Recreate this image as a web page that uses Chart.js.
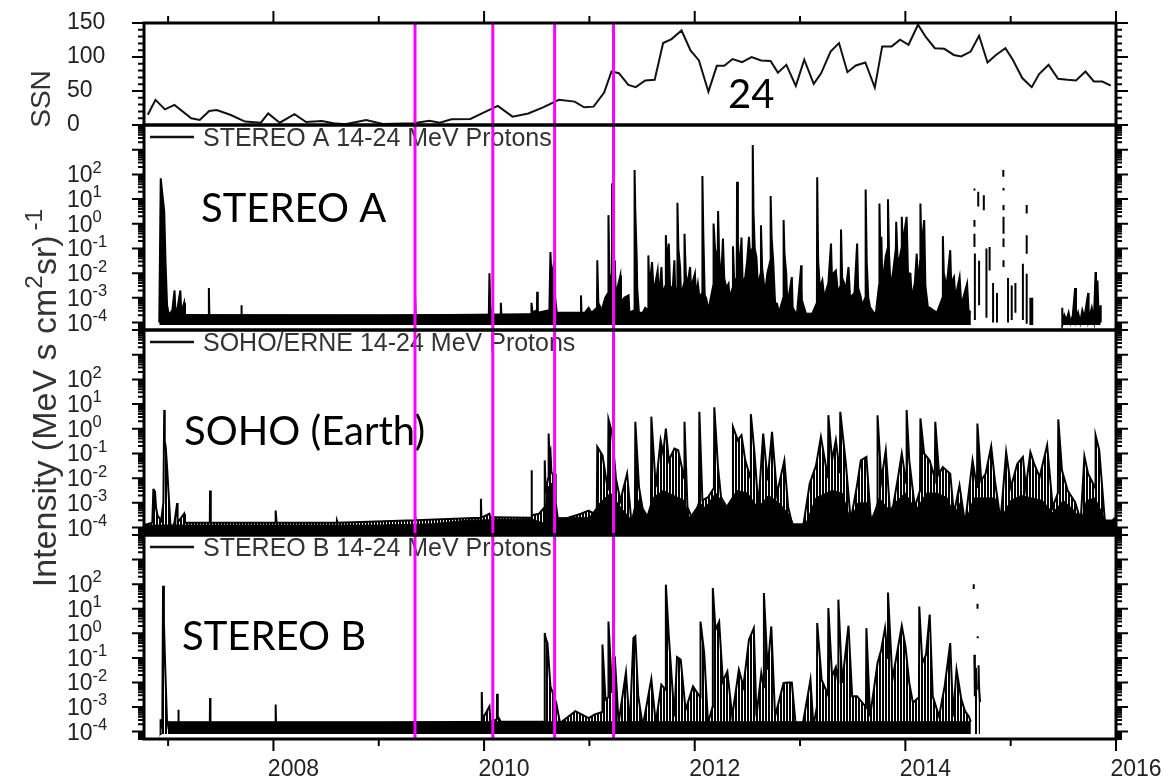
<!DOCTYPE html>
<html>
<head>
<meta charset="utf-8">
<script src="https://cdn.jsdelivr.net/npm/chart.js@4.4.1/dist/chart.umd.min.js"></script>
<style>
  body { margin: 0; background: #fff; }
  #wrap { width: 1166px; height: 780px; position: relative; }
</style>
</head>
<body>
<div id="wrap"><canvas id="c"></canvas></div>
<script>
// x axis (decimal years)
const xMin = 2006.771;
const xMax = 2016;
const yearTicks = [2007, 2008, 2009, 2010, 2011, 2012, 2013, 2014, 2015, 2016];
const yearLabels = [2008, 2010, 2012, 2014, 2016];
const eventTimes = [2009.344, 2010.083, 2010.67, 2011.229];

// sunspot number, monthly
const ssnT = [2006.807, 2006.88, 2006.97, 2007.06, 2007.22, 2007.30, 2007.39, 2007.46, 2007.59, 2007.73,
  2007.88, 2007.95, 2008.06, 2008.20, 2008.31, 2008.46, 2008.57, 2008.68, 2008.88, 2009.04,
  2009.33, 2009.48, 2009.58, 2009.69, 2009.87, 2009.98, 2010.13, 2010.27, 2010.42, 2010.56,
  2010.71, 2010.86, 2010.95, 2011.04, 2011.14, 2011.21, 2011.28, 2011.37, 2011.44, 2011.53,
  2011.62, 2011.70, 2011.78, 2011.875, 2011.96, 2012.04, 2012.13, 2012.21, 2012.28, 2012.36,
  2012.45, 2012.54, 2012.63, 2012.72, 2012.79, 2012.87, 2012.96, 2013.04, 2013.13, 2013.20,
  2013.29, 2013.37, 2013.45, 2013.53, 2013.62, 2013.71, 2013.78, 2013.87, 2013.95, 2014.03,
  2014.12, 2014.19, 2014.28, 2014.37, 2014.46, 2014.53, 2014.62, 2014.70, 2014.78, 2014.86,
  2014.95, 2015.02, 2015.11, 2015.20, 2015.27, 2015.36, 2015.45, 2015.54, 2015.62, 2015.71,
  2015.79, 2015.87, 2015.95];
const ssnV = [15, 37, 23, 29.5, 10, 7.5, 20.7, 22, 15, 5,
  3.4, 17, 3.4, 16, 4.4, 6, 2.5, 1, 7.4, 1.5,
  2.5, 6.4, 3.4, 8.4, 9, 17, 28, 12.3, 17, 26,
  37, 34.4, 26, 27, 47.7, 78.7, 76.2, 59, 55.6, 65.4,
  66.4, 120.5, 126.4, 139, 109.7, 95, 49, 87, 87, 97,
  92.5, 100, 95, 94, 77, 88.5, 57.5, 96, 60.5, 76,
  108, 120.5, 77.7, 87.5, 92, 55, 115.6, 115.6, 125.4, 118,
  147.5, 130.3, 113, 112, 103, 100.8, 108, 131.3, 92, 103,
  113, 96, 69, 55.6, 75, 88.5, 68, 66.4, 65.4, 78.7,
  64, 64, 58];

// proton intensity, [year, log10 intensity]; null = data gap
const staPts = [
  [2006.916,-4.0],[2006.930,1.84],[2006.938,1.5],[2006.963,0.5],[2006.975,-1.5],[2006.99,-3.3],[2007.007,-3.7],
  [2007.04,-3.5],[2007.061,-2.7],[2007.07,-3.6],[2007.09,-3.4],[2007.116,-2.7],[2007.125,-3.6],[2007.152,-3.2],[2007.16,-3.7],
  [2007.385,-3.7],[2007.387,-2.6],[2007.392,-3.7],[2007.693,-3.7],[2007.695,-3.3],[2007.70,-3.7],
  [2009.342,-3.7],[2009.344,-2.75],[2009.35,-3.7],
  [2010.045,-3.7],[2010.051,-2.0],[2010.058,-3.3],[2010.07,-3.7],[2010.155,-3.7],[2010.159,-3.2],[2010.165,-3.7],
  [2010.448,-3.7],[2010.45,-3.2],[2010.46,-3.6],[2010.502,-3.5],[2010.504,-2.75],[2010.51,-3.6],
  [2010.62,-3.5],[2010.63,-1.14],[2010.64,-2.2],[2010.667,-1.5],[2010.675,-3.0],[2010.69,-3.6],
  [2010.918,-3.6],[2010.92,-2.9],[2010.925,-3.6],[2010.958,-3.6],[2010.993,-3.4],[2011.02,-3.6],
  [2011.072,-3.4],[2011.075,-1.48],[2011.085,-3.2],[2011.117,-3.5],[2011.15,-3.0],[2011.178,-2.8],[2011.181,0.35],[2011.19,-2.0],
  [2011.214,-2.5],[2011.216,1.64],[2011.226,0.0],[2011.232,-2.6],[2011.241,-1.48],[2011.25,-2.9],[2011.294,-2.09],[2011.30,-3.2],
  [2011.33,-3.0],[2011.372,-2.9],[2011.38,-3.6],
  [2011.426,-3.5],[2011.429,2.18],[2011.436,0.5],[2011.45,-1.5],[2011.454,-2.6],[2011.47,-3.6],[2011.507,-3.6],[2011.53,-3.4],
  [2011.557,-3.5],[2011.560,-1.28],[2011.57,-2.6],[2011.595,-1.55],[2011.61,-2.8],[2011.648,-1.9],[2011.66,-3.0],[2011.684,-1.75],[2011.695,-2.8],
  [2011.723,-2.5],[2011.726,-0.46],[2011.735,-1.6],[2011.754,-0.8],[2011.765,-2.5],[2011.79,-2.7],[2011.807,-1.48],[2011.815,-2.8],
  [2011.833,-2.6],[2011.836,0.85],[2011.845,-1.0],[2011.861,-1.75],[2011.87,-2.9],[2011.900,-2.4],[2011.903,-0.4],[2011.915,-2.02],
  [2011.931,-2.5],[2011.956,-1.75],[2011.965,-2.6],[2012.002,-2.02],[2012.012,-2.9],[2012.030,-2.43],[2012.045,-3.0],
  [2012.07,-2.8],[2012.073,1.93],[2012.082,-0.5],[2012.095,-2.9],[2012.108,-3.0],[2012.13,-3.5],
  [2012.176,-2.5],[2012.179,0.01],[2012.19,-0.8],[2012.20,-1.5],[2012.219,-1.0],[2012.222,0.52],[2012.232,-1.3],[2012.250,-2.4],
  [2012.268,-0.6],[2012.28,-2.2],[2012.30,-2.6],[2012.321,-2.43],[2012.33,-3.0],[2012.36,-2.6],[2012.363,-0.91],[2012.375,-2.3],
  [2012.399,-2.2],[2012.402,1.7],[2012.41,-0.7],[2012.427,-2.0],[2012.444,-0.56],[2012.455,-2.4],[2012.48,-2.16],
  [2012.498,-1.5],[2012.515,-0.53],[2012.525,-1.2],[2012.548,-1.0],[2012.551,3.19],[2012.558,0.5],[2012.57,-1.0],[2012.586,-1.35],[2012.60,-2.5],
  [2012.627,-2.0],[2012.629,-0.06],[2012.64,-1.8],[2012.662,-2.6],[2012.675,-2.56],[2012.69,-2.0],
  [2012.718,-1.5],[2012.721,1.12],[2012.73,-0.53],[2012.745,-1.5],[2012.763,-3.2],[2012.781,-3.24],
  [2012.80,-3.6],[2012.841,-3.0],[2012.844,0.15],[2012.852,-1.2],[2012.869,-2.02],[2012.88,-3.3],[2012.922,-2.16],[2012.93,-3.4],
  [2012.97,-3.7],[2013.011,-1.68],[2013.015,-2.6],[2013.02,-3.6],[2013.028,-3.24],[2013.06,-3.7],[2013.10,-3.8],
  [2013.16,-3.2],[2013.163,1.88],[2013.172,-1.48],[2013.188,-2.6],[2013.212,-2.29],[2013.23,-3.0],
  [2013.269,-2.4],[2013.294,-0.8],[2013.305,-2.5],[2013.319,-2.0],[2013.34,-1.9],[2013.36,-2.8],
  [2013.386,-2.5],[2013.389,-0.23],[2013.40,-2.2],[2013.418,-2.4],[2013.435,-2.7],[2013.46,-1.75],[2013.475,-3.0],
  [2013.517,-2.8],[2013.542,-0.8],[2013.552,-2.6],[2013.577,-2.97],[2013.59,-3.3],
  [2013.620,-3.0],[2013.623,1.39],[2013.633,-1.5],[2013.648,-3.0],[2013.665,-3.38],[2013.70,-3.6],[2013.719,-3.65],
  [2013.75,-2.5],[2013.754,0.82],[2013.762,-1.0],[2013.772,-0.53],[2013.78,-2.0],[2013.795,-2.0],[2013.814,-1.3],
  [2013.832,-1.0],[2013.835,0.99],[2013.845,-1.21],[2013.86,-2.6],[2013.885,-1.9],[2013.91,-1.0],[2013.913,0.08],[2013.925,-1.35],
  [2013.941,-1.5],[2013.963,-1.0],[2013.966,0.28],[2013.975,-0.8],[2014.012,0.28],[2014.025,-2.0],[2014.048,-2.02],[2014.06,-3.0],
  [2014.090,-2.4],[2014.108,-1.21],[2014.12,-2.5],[2014.140,-1.5],[2014.143,0.82],[2014.152,-1.0],[2014.179,0.15],[2014.19,-2.5],
  [2014.214,-3.38],[2014.232,-3.4],[2014.267,-3.51],[2014.30,-3.6],
  [2014.353,-3.0],[2014.356,-0.5],[2014.365,-2.0],[2014.391,-2.56],[2014.426,-1.07],[2014.435,-2.4],[2014.462,-2.16],[2014.475,-3.0],
  [2014.515,-2.16],[2014.53,-3.2],[2014.55,-3.0],[2014.586,-2.43],[2014.60,-3.5],[2014.621,-3.6],[2014.621,null],
  [2014.656,1.43],[2014.656,1.35],[2014.656,null],[2014.656,0.15],[2014.656,-0.12],[2014.656,null],
  [2014.656,-0.4],[2014.656,-0.94],[2014.656,null],[2014.660,-1.2],[2014.660,-3.9],[2014.660,null],
  [2014.692,1.3],[2014.692,0.7],[2014.692,null],[2014.70,-1.5],[2014.70,-3.3],[2014.70,null],
  [2014.745,1.16],[2014.745,0.55],[2014.745,null],[2014.77,-1.0],[2014.77,-3.8],[2014.77,null],
  [2014.80,-0.94],[2014.80,-1.89],[2014.80,null],[2014.833,-2.4],[2014.833,-4.0],[2014.833,null],
  [2014.87,-2.8],[2014.87,-4.0],[2014.87,null],[2014.93,2.18],[2014.93,1.9],[2014.93,null],
  [2014.932,1.45],[2014.932,1.35],[2014.932,null],[2014.932,0.76],[2014.932,0.55],[2014.932,null],
  [2014.932,0.28],[2014.932,-0.4],[2014.932,null],[2014.932,-0.6],[2014.932,-0.94],[2014.932,null],
  [2014.932,-1.48],[2014.932,-1.75],[2014.932,null],[2014.975,-2.2],[2014.975,-4.0],[2014.975,null],
  [2015.01,-2.5],[2015.01,-3.9],[2015.01,null],[2015.045,-2.4],[2015.045,-3.6],[2015.045,null],
  [2015.116,-1.62],[2015.116,-3.9],[2015.116,null],[2015.152,0.76],[2015.152,0.42],[2015.152,null],
  [2015.152,-0.46],[2015.152,-1.21],[2015.152,null],[2015.152,-2.02],[2015.152,-4.05],[2015.152,null],
  [2015.187,-3.0],[2015.187,-4.1],[2015.187,null],[2015.205,-3.0],[2015.205,-4.1],[2015.205,null],
  [2015.49,-3.4],[2015.49,-4.1],[2015.51,-3.7],[2015.53,-3.9],[2015.55,-3.6],[2015.57,-4.0],[2015.59,-3.7],[2015.612,-2.6],
  [2015.62,-3.9],[2015.64,-3.6],[2015.66,-4.0],[2015.68,-3.5],[2015.70,-3.8],[2015.736,-2.8],[2015.74,-3.9],[2015.77,-3.4],
  [2015.79,-3.9],[2015.806,-1.95],[2015.81,-3.0],[2015.824,-2.3],[2015.835,-3.8],[2015.853,-3.3],[2015.855,-4.0]
];
const staBand = [[2007.0,-3.68],[2009.0,-3.7],[2011.0,-3.62],[2014.62,-3.62]];

const sohoPts = [
  [2006.771,-3.9],[2006.85,-3.8],[2006.86,-2.43],[2006.865,-3.5],[2006.875,-2.5],[2006.885,-3.17],[2006.898,-3.5],[2006.934,-3.72],
  [2006.955,-3.0],[2006.963,0.76],[2006.968,-0.5],[2006.977,-0.73],[2006.99,-1.55],[2007.025,-4.1],[2007.06,-3.8],[2007.086,-3.01],
  [2007.09,-3.8],[2007.152,-3.44],[2007.16,-3.8],[2007.396,-3.8],[2007.398,-2.5],[2007.405,-3.8],[2008.02,-3.8],[2008.021,-3.31],
  [2008.03,-3.8],[2008.601,-3.8],[2008.603,-3.72],[2008.61,-3.8],[2009.344,-3.7],[2009.346,-3.58],[2009.35,-3.7],
  [2009.968,-3.6],[2009.97,-2.83],[2009.975,-3.6],[2010.051,-3.44],[2010.06,-3.6],[2010.105,-3.58],[2010.448,-3.6],[2010.45,-1.68],
  [2010.455,-3.5],[2010.522,-3.44],[2010.57,-3.2],[2010.576,-1.28],[2010.585,-2.6],[2010.608,-2.0],[2010.613,-0.19],[2010.62,-1.0],
  [2010.63,-0.87],[2010.64,-1.8],[2010.674,-1.82],[2010.68,-3.0],[2010.703,-3.72],[2010.80,-3.6],[2010.92,-3.44],
  [2010.993,-3.31],[2011.07,-3.5],[2011.075,-0.73],[2011.124,-1.07],[2011.176,-2.5],[2011.181,0.38],[2011.216,-0.19],[2011.252,-2.02],
  [2011.294,-2.9],[2011.358,-1.82],[2011.400,-3.85],[2011.432,-3.6],[2011.436,0.28],[2011.471,-2.36],[2011.524,-3.72],
  [2011.584,-3.5],[2011.588,0.49],[2011.630,-2.36],[2011.676,-0.46],[2011.701,-1.0],[2011.726,0.01],[2011.754,-1.28],[2011.807,-0.80],
  [2011.843,-0.87],[2011.900,-2.0],[2011.903,0.28],[2011.931,-3.17],[2011.984,-3.72],[2012.04,-3.0],[2012.044,0.69],[2012.073,-2.9],
  [2012.126,-2.77],[2012.182,-2.4],[2012.186,0.87],[2012.221,-1.55],[2012.250,-2.77],[2012.303,-3.17],[2012.36,-2.8],[2012.363,0.08],
  [2012.409,-0.46],[2012.444,-0.26],[2012.480,-1.28],[2012.53,-2.0],[2012.533,0.59],[2012.568,-1.0],[2012.604,-3.17],
  [2012.650,-0.19],[2012.692,-2.09],[2012.734,-0.12],[2012.781,-2.63],[2012.851,-1.28],[2012.887,-3.17],[2012.940,-4.12],
  [2013.028,-3.99],[2013.092,-2.22],[2013.152,-1.48],[2013.198,-0.33],[2013.265,-2.0],[2013.269,0.55],[2013.304,-1.28],[2013.340,-0.46],
  [2013.378,-1.8],[2013.382,0.69],[2013.435,-1.41],[2013.481,-3.72],[2013.541,-2.29],[2013.577,-1.28],[2013.630,-1.14],[2013.672,-3.72],
  [2013.732,-3.2],[2013.736,0.55],[2013.772,-2.09],[2013.814,-0.87],[2013.860,-3.72],[2013.931,-1.95],[2013.966,-1.0],[2014.008,-2.2],
  [2014.012,0.76],[2014.037,-1.28],[2014.090,-3.17],[2014.139,-2.5],[2014.143,0.42],[2014.178,-1.0],[2014.231,-1.28],[2014.280,-2.0],
  [2014.284,0.28],[2014.320,-1.82],[2014.355,-1.55],[2014.426,-1.82],[2014.461,-3.44],[2014.514,-2.29],[2014.567,-3.85],
  [2014.638,-1.28],[2014.680,-2.4],[2014.684,0.21],[2014.720,-2.09],[2014.762,-1.82],[2014.815,-0.71],[2014.850,-2.09],[2014.904,-3.72],
  [2014.957,-0.94],[2015.003,-2.36],[2015.063,-1.41],[2015.116,-1.14],[2015.144,-2.36],[2015.187,-0.94],[2015.222,-1.41],[2015.275,-1.95],
  [2015.346,-0.67],[2015.399,-3.17],[2015.448,-2.6],[2015.452,0.38],[2015.487,-1.68],[2015.541,-2.5],[2015.612,-2.97],[2015.665,-3.72],
  [2015.700,-1.11],[2015.735,-1.82],[2015.803,-2.4],[2015.806,-0.26],[2015.841,-0.87],[2015.894,-3.72],[2015.966,-3.72],[2015.99,-3.6]
];
// level of the dense low-intensity mass under the SOHO spikes
const sohoEnv = [
  [2010.57,-3.8],[2010.60,-2.4],[2010.64,-2.2],[2010.68,-3.6],[2011.0,-3.6],[2011.1,-3.0],[2011.2,-2.6],[2011.3,-3.2],[2011.4,-3.7],
  [2011.45,-2.8],[2011.55,-3.5],[2011.6,-2.8],[2011.7,-2.5],[2011.8,-2.7],[2011.9,-2.9],[2011.95,-3.6],[2012.05,-3.0],[2012.1,-3.2],
  [2012.2,-2.6],[2012.3,-3.2],[2012.4,-2.5],[2012.5,-2.6],[2012.6,-3.2],[2012.7,-2.7],[2012.8,-3.0],[2012.9,-3.5],[2012.95,-4.0],
  [2013.05,-3.9],[2013.15,-2.8],[2013.3,-2.5],[2013.4,-2.6],[2013.48,-3.7],[2013.55,-3.0],[2013.65,-3.0],[2013.68,-3.7],[2013.75,-2.8],
  [2013.85,-3.3],[2013.9,-3.0],[2014.0,-2.6],[2014.1,-3.3],[2014.2,-2.6],[2014.3,-2.6],[2014.4,-2.8],[2014.46,-3.5],[2014.52,-3.0],
  [2014.57,-3.8],[2014.65,-2.8],[2014.75,-2.8],[2014.85,-2.8],[2014.9,-3.7],[2015.0,-2.9],[2015.1,-2.7],[2015.2,-2.8],[2015.3,-2.9],
  [2015.4,-3.4],[2015.5,-2.9],[2015.6,-3.3],[2015.67,-3.7],[2015.72,-2.9],[2015.8,-2.8],[2015.9,-3.7],[2016.0,-3.7]
];
const sohoBand = [[2006.771,-3.9],[2009.0,-3.9],[2009.5,-3.85],[2009.85,-3.7],[2010.45,-3.65],[2010.55,-3.8],[2011.0,-3.85],[2016.0,-3.85]];

const stbPts = [
  [2006.925,-4.1],[2006.927,-3.5],[2006.93,-3.9],[2006.945,-3.6],[2006.952,1.93],[2006.96,0.5],[2006.971,-1.21],[2006.989,-3.51],
  [2007.007,-3.92],[2007.096,-3.7],[2007.098,-3.11],[2007.1,-3.7],[2007.396,-3.7],[2007.398,-2.63],[2007.402,-3.7],
  [2008.019,-3.7],[2008.021,-2.9],[2008.025,-3.7],[2009.976,-3.6],[2009.978,-2.39],[2009.985,-3.5],[2010.051,-2.97],[2010.06,-3.6],
  [2010.121,-3.5],[2010.123,-2.46],[2010.13,-3.38],[2010.159,-3.6],[2010.572,-3.6],[2010.576,0.01],[2010.585,-0.2],[2010.602,-0.4],
  [2010.63,-2.16],[2010.685,-2.83],[2010.721,-3.65],[2010.867,-3.17],[2010.994,-3.45],
  [2011.047,-3.31],[2011.12,-3.2],[2011.124,-0.46],[2011.153,-2.7],[2011.178,-2.6],[2011.181,0.48],[2011.216,-2.43],[2011.241,-0.94],
  [2011.277,-3.65],[2011.347,-1.59],[2011.383,-3.78],[2011.418,-0.19],[2011.436,-0.12],[2011.464,-2.56],[2011.507,-3.78],
  [2011.588,-1.86],[2011.630,-3.65],[2011.683,-2.09],[2011.723,-2.3],[2011.726,1.98],[2011.754,-0.12],[2011.807,-3.38],[2011.832,-0.97],
  [2011.867,-1.07],[2011.913,-3.11],[2011.984,-2.16],[2012.052,-2.6],[2012.055,0.48],[2012.090,-0.8],[2012.126,-3.65],[2012.169,-3.0],
  [2012.172,1.84],[2012.197,0.15],[2012.232,0.48],[2012.267,-1.95],[2012.310,-1.55],[2012.356,-3.38],[2012.419,-1.48],[2012.462,-2.16],
  [2012.515,-0.26],[2012.561,0.21],[2012.586,-3.38],[2012.632,-1.62],[2012.654,-2.2],[2012.657,1.64],[2012.692,-1.48],[2012.727,0.28],
  [2012.763,-3.38],[2012.844,-2.02],[2012.887,-2.0],[2012.922,-2.0],[2012.957,-3.65],[2013.028,-3.65],[2013.099,-1.89],[2013.127,-3.78],
  [2013.160,-3.0],[2013.163,0.42],[2013.205,-1.89],[2013.265,-2.5],[2013.269,1.03],[2013.304,-1.75],[2013.340,-1.37],[2013.362,-2.0],
  [2013.364,1.37],[2013.400,-2.02],[2013.460,0.31],[2013.495,-2.56],[2013.541,-2.56],[2013.626,-3.0],[2013.630,0.21],[2013.665,-3.38],
  [2013.736,-1.21],[2013.771,-0.67],[2013.807,0.21],[2013.832,-1.0],[2013.835,1.66],[2013.877,-1.89],[2013.966,0.31],[2014.001,-0.53],
  [2014.037,-2.02],[2014.072,-2.83],[2014.129,-2.6],[2014.132,1.09],[2014.161,-1.21],[2014.196,-0.87],[2014.231,0.76],[2014.260,-2.56],
  [2014.320,-3.38],[2014.373,-2.16],[2014.426,-0.4],[2014.454,-3.38],[2014.486,-1.48],[2014.532,-2.7],[2014.567,-3.17],[2014.603,-3.38],
  [2014.621,-3.6],[2014.621,null],
  [2014.649,2.0],[2014.649,1.8],[2014.649,null],[2014.655,-0.87],[2014.66,-2.56],[2014.67,-1.4],[2014.68,-2.3],[2014.68,null],
  [2014.685,1.2],[2014.685,1.0],[2014.685,null],[2014.687,-0.12],[2014.687,-0.2],[2014.687,null],
  [2014.695,-1.3],[2014.70,-2.2],[2014.709,-2.8]
];
const stbBand = [[2007.0,-3.6],[2014.62,-3.6]];

const legendLabels = ['STEREO A 14-24 MeV Protons', 'SOHO/ERNE 14-24 MeV Protons', 'STEREO B 14-24 MeV Protons'];
const panelNames = ['STEREO A', 'SOHO (Earth)', 'STEREO B'];
const cycleLabel = '24';

function toPoints(pairs) {
  return pairs.map(([t, k]) => ({ x: t, y: k === null ? null : Math.pow(10, k) }));
}

const logMin = 5e-5;
const logMax = 1e4;
const FONT = '"Liberation Sans", Arial, Helvetica, sans-serif';
const logIds = ['ySTA', 'ySOHO', 'ySTB'];

// vertical hatch, reads like the many overlapping spikes of the original
function hatch() {
  const c = document.createElement('canvas');
  c.width = 3;
  c.height = 1;
  const g = c.getContext('2d');
  g.fillStyle = '#000';
  g.fillRect(0, 0, 2, 1);
  return g.createPattern(c, 'repeat');
}

function lineSet(pairs, yAxisID, floor, bg) {
  return {
    data: toPoints(pairs), yAxisID, borderColor: '#000', backgroundColor: bg, borderWidth: 2,
    pointRadius: 0, tension: 0, spanGaps: false, fill: { value: Math.pow(10, floor) }
  };
}
function bandSet(pairs, yAxisID, lo) {
  return { data: toPoints(pairs), yAxisID, borderColor: '#000', backgroundColor: '#000', borderWidth: 1, pointRadius: 0, fill: { value: Math.pow(10, lo) } };
}

function logScale(weight, stackWeight) {
  return {
    type: 'logarithmic', position: 'left', stack: 'panels', stackWeight, weight,
    min: logMin, max: logMax,
    grid: { display: false, drawTicks: false }, border: { display: false },
    ticks: { display: false },
    afterFit: s => { s.width = 77; }
  };
}

// superscript text helper, draws left to right from the given origin
function drawRich(ctx, parts, size, x, y, measureOnly) {
  let w = 0;
  parts.forEach(([txt, sup]) => {
    const fs = sup ? size * 0.72 : size;
    ctx.font = fs + 'px ' + FONT;
    if (!measureOnly) ctx.fillText(txt, x + w, sup ? y - size * 0.42 : y);
    w += ctx.measureText(txt).width;
  });
  return w;
}

const decor = {
  id: 'decor',
  afterDatasetsDraw(chart) {
    const { ctx, chartArea: a, scales } = chart;
    const xs = scales.x;
    ctx.save();

    // legend keys, panel names
    const namePos = [[201, 97], [184, 115], [182, 115]];
    logIds.forEach((id, i) => {
      const s = scales[id];
      ctx.strokeStyle = '#111';
      ctx.lineWidth = 2.5;
      ctx.beginPath();
      ctx.moveTo(a.left + 6, s.top + 12);
      ctx.lineTo(a.left + 50, s.top + 12);
      ctx.stroke();
      ctx.fillStyle = '#333';
      ctx.textAlign = 'left';
      ctx.textBaseline = 'alphabetic';
      ctx.font = '25px ' + FONT;
      ctx.fillText(legendLabels[i], a.left + 59, s.top + 21);
      ctx.fillStyle = '#000';
      ctx.font = '40px Lato, "Open Sans", sans-serif';
      ctx.fillText(panelNames[i], namePos[i][0], s.top + namePos[i][1]);
    });
    ctx.font = '40px Lato, "Open Sans", sans-serif';
    ctx.fillText(cycleLabel, 728, scales.ySSN.top + 85);

    // event markers
    ctx.strokeStyle = '#ff00ff';
    ctx.lineWidth = 3;
    eventTimes.forEach(t => {
      const px = xs.getPixelForValue(t);
      ctx.beginPath();
      ctx.moveTo(px, a.top);
      ctx.lineTo(px, a.bottom);
      ctx.stroke();
    });

    // panel frames
    ctx.strokeStyle = '#000';
    ctx.lineWidth = 3;
    ['ySSN', ...logIds].forEach(id => {
      const s = scales[id];
      ctx.strokeRect(a.left, s.top, a.right - a.left, s.bottom - s.top);
    });

    // y ticks, both sides
    ctx.lineWidth = 2;
    const tick = (y, len) => {
      ctx.beginPath();
      ctx.moveTo(a.left, y); ctx.lineTo(a.left - len, y);
      ctx.moveTo(a.right, y); ctx.lineTo(a.right + len, y);
      ctx.stroke();
    };
    const ssn = scales.ySSN;
    for (let v = 0; v <= 150; v += 10) tick(ssn.getPixelForValue(v), v % 50 === 0 ? 12 : 6);
    logIds.forEach(id => {
      const s = scales[id];
      for (let k = -5; k <= 4; k++) {
        for (let m = 1; m <= 9; m++) {
          const v = m * Math.pow(10, k);
          if (v < logMin * 0.999 || v > logMax * 1.001) continue;
          tick(s.getPixelForValue(v), m === 1 ? 12 : 6);
        }
      }
      // decade labels
      ctx.fillStyle = '#222';
      ctx.textAlign = 'left';
      ctx.textBaseline = 'alphabetic';
      for (let k = -4; k <= 2; k++) {
        const y = s.getPixelForValue(Math.pow(10, k));
        drawRich(ctx, [['10', false], [String(k), true]], 23, 67, y + 8, false);
      }
    });

    // x ticks top and bottom
    yearTicks.forEach(yr => {
      const px = xs.getPixelForValue(yr);
      const len = yr % 2 === 0 ? 12 : 7;
      ctx.beginPath();
      ctx.moveTo(px, a.top); ctx.lineTo(px, a.top - len);
      ctx.moveTo(px, a.bottom); ctx.lineTo(px, a.bottom + len);
      ctx.stroke();
    });

    // axis titles
    ctx.fillStyle = '#333';
    ctx.save();
    ctx.translate(50, (ssn.top + ssn.bottom) / 2 + 25);
    ctx.rotate(-Math.PI / 2);
    ctx.font = '28px ' + FONT;
    ctx.textAlign = 'center';
    ctx.fillText('SSN', 0, 0);
    ctx.restore();

    const title = [['Intensity (MeV s cm', false], ['2', true], ['sr)', false], ['\u2009-1', true]];
    ctx.save();
    ctx.translate(56, 398);
    ctx.rotate(-Math.PI / 2);
    ctx.textAlign = 'left';
    const w = drawRich(ctx, title, 34, 0, 0, true);
    drawRich(ctx, title, 34, -w / 2, 0, false);
    ctx.restore();

    ctx.restore();
  }
};

const stripes = hatch();

new Chart(document.getElementById('c'), {
  type: 'line',
  data: {
    datasets: [
      { data: ssnT.map((t, i) => ({ x: t, y: ssnV[i] })), yAxisID: 'ySSN', borderColor: '#111', borderWidth: 2, pointRadius: 0, tension: 0, fill: false },
      lineSet(staPts, 'ySTA', -4.1, '#000'),
      lineSet(sohoPts, 'ySOHO', -4.27, stripes),
      lineSet(stbPts, 'ySTB', -4.1, stripes),
      bandSet(staBand, 'ySTA', -4.1),
      bandSet(sohoEnv, 'ySOHO', -4.27),
      bandSet(sohoBand, 'ySOHO', -4.27),
      bandSet(stbBand, 'ySTB', -4.1)
    ]
  },
  options: {
    responsive: true,
    maintainAspectRatio: false,
    animation: false,
    events: [],
    layout: { padding: { left: 67, right: 50, top: 23, bottom: 0 } },
    plugins: { legend: { display: false }, tooltip: { enabled: false } },
    scales: {
      x: {
        type: 'linear', position: 'bottom', min: xMin, max: xMax,
        grid: { display: false, drawTicks: false }, border: { display: false },
        afterBuildTicks: s => { s.ticks = yearLabels.map(v => ({ value: v })); },
        ticks: { font: { size: 23, family: FONT }, color: '#222', padding: 17, labelOffset: 20, maxRotation: 0, autoSkip: false, callback: v => String(v) },
        afterFit: s => { s.height = 41; }
      },
      ySSN: {
        type: 'linear', position: 'left', stack: 'panels', stackWeight: 102, weight: 4,
        min: 0, max: 150,
        grid: { display: false, drawTicks: false }, border: { display: false },
        ticks: { stepSize: 50, autoSkip: false, font: { size: 23, family: FONT }, color: '#222', crossAlign: 'far', padding: 0 },
        afterFit: s => { s.width = 77; }
      },
      ySTA: logScale(3, 205),
      ySOHO: logScale(2, 205),
      ySTB: logScale(1, 204)
    }
  },
  plugins: [decor]
});
</script>
</body>
</html>
